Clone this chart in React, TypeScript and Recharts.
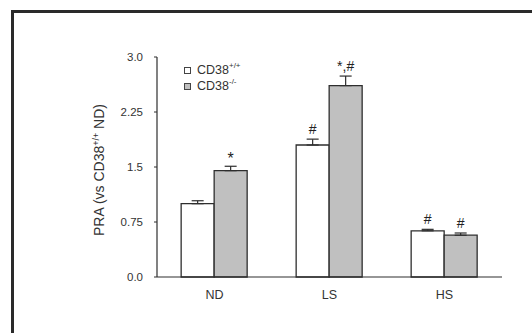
import React from "react";
import {
  BarChart,
  Bar,
  XAxis,
  YAxis,
  ErrorBar,
  LabelList,
} from "recharts";

const categories = ["ND", "LS", "HS"];
const wildType = [1.0, 1.8, 0.63];
const knockout = [1.45, 2.61, 0.57];
const wildErr = [0.04, 0.08, 0.02];
const knockoutErr = [0.06, 0.13, 0.03];
const wildMarks = ["", "#", "#"];
const knockoutMarks = ["*", "*,#", "#"];
const yTicks = [0, 0.75, 1.5, 2.25, 3.0];
const yTickLabels = ["0.0", "0.75", "1.5", "2.25", "3.0"];
const seriesNames = ["CD38", "CD38"];
const seriesSups = ["+/+", "-/-"];
const seriesFills = ["#ffffff", "#c0c0c0"];

const FONT = "'Liberation Sans', Arial, sans-serif";
const INK = "#2e2e2e";

const chartData = categories.map((name, i) => ({
  name,
  wt: wildType[i],
  ko: knockout[i],
  wtErr: [0, wildErr[i]],
  koErr: [0, knockoutErr[i]],
  wtMark: wildMarks[i],
  koMark: knockoutMarks[i],
}));

// significance mark sitting just above the error bar cap
const makeMark = (vals: number[], errs: number[]) => (props: any) => {
  const { x, y, width, height, value, index } = props;
  if (!value) return null;
  const errPx = vals[index] ? (height / vals[index]) * errs[index] : 0;
  const starOnly = value === "*";
  return (
    <text
      x={x + width / 2}
      y={y - errPx - (starOnly ? 2 : 5)}
      textAnchor="middle"
      fontFamily={FONT}
      fontSize={starOnly ? 16 : 14}
      fill="#222"
    >
      {value}
    </text>
  );
};

const renderYLabel = (props: any) => {
  const { viewBox } = props;
  const cx = 104;
  const cy = viewBox.y + viewBox.height / 2 + 3;
  return (
    <text
      transform={`translate(${cx},${cy}) rotate(-90)`}
      textAnchor="middle"
      fontFamily={FONT}
      fontSize={14}
      fill="#333"
    >
      PRA (vs CD38
      <tspan fontSize={9} dy={-5}>+/+</tspan>
      <tspan dy={5}> ND)</tspan>
    </text>
  );
};

export default function App() {
  return (
    <div style={{ position: "fixed", left: 0, top: 0, width: 532, height: 333, background: "#fff" }}>
      <div
        style={{
          position: "absolute",
          left: 11,
          top: 10,
          right: -10,
          bottom: -10,
          borderLeft: "3px solid #2a2a2a",
          borderTop: "3px solid #2a2a2a",
        }}
      />
      <div style={{ position: "absolute", left: 0, top: 0 }}>
        <BarChart
          width={532}
          height={333}
          data={chartData}
          margin={{ top: 57, right: 30, bottom: 26, left: 97 }}
          barCategoryGap="21%"
          barGap={0}
        >
          <XAxis
            dataKey="name"
            tickLine={false}
            tickSize={0}
            tickMargin={13}
            height={30}
            axisLine={{ stroke: INK, strokeWidth: 1.2 }}
            tick={{ fill: "#333", fontSize: 12.5, fontFamily: FONT }}
          />
          <YAxis
            domain={[0, 3]}
            ticks={yTicks}
            width={60}
            tickSize={3}
            tickMargin={11}
            tickFormatter={(v: number) => yTickLabels[yTicks.indexOf(v)]}
            axisLine={{ stroke: INK, strokeWidth: 1.2 }}
            tickLine={{ stroke: INK }}
            tick={{ fill: "#333", fontSize: 11.5, fontFamily: FONT }}
            label={{ content: renderYLabel }}
          />
          <Bar dataKey="wt" name="CD38+/+" fill={seriesFills[0]} stroke={INK} strokeWidth={1.3} isAnimationActive={false}>
            <ErrorBar dataKey="wtErr" width={6} stroke={INK} strokeWidth={1.2} direction="y" />
            <LabelList dataKey="wtMark" content={makeMark(wildType, wildErr)} />
          </Bar>
          <Bar dataKey="ko" name="CD38-/-" fill={seriesFills[1]} stroke={INK} strokeWidth={1.3} isAnimationActive={false}>
            <ErrorBar dataKey="koErr" width={6} stroke={INK} strokeWidth={1.2} direction="y" />
            <LabelList dataKey="koMark" content={makeMark(knockout, knockoutErr)} />
          </Bar>
        </BarChart>
      </div>
      <div
        style={{
          position: "absolute",
          left: 184,
          top: 62,
          fontFamily: FONT,
          fontSize: 12.5,
          color: "#333",
          lineHeight: "16px",
        }}
      >
        {seriesNames.map((n, i) => (
          <div key={i} style={{ display: "flex", alignItems: "center" }}>
            <span
              style={{
                display: "inline-block",
                width: 5,
                height: 5,
                border: "1px solid #444",
                background: seriesFills[i],
                marginRight: 6,
              }}
            />
            {n}
            <span style={{ fontSize: 8, position: "relative", top: -4 }}>{seriesSups[i]}</span>
          </div>
        ))}
      </div>
    </div>
  );
}
